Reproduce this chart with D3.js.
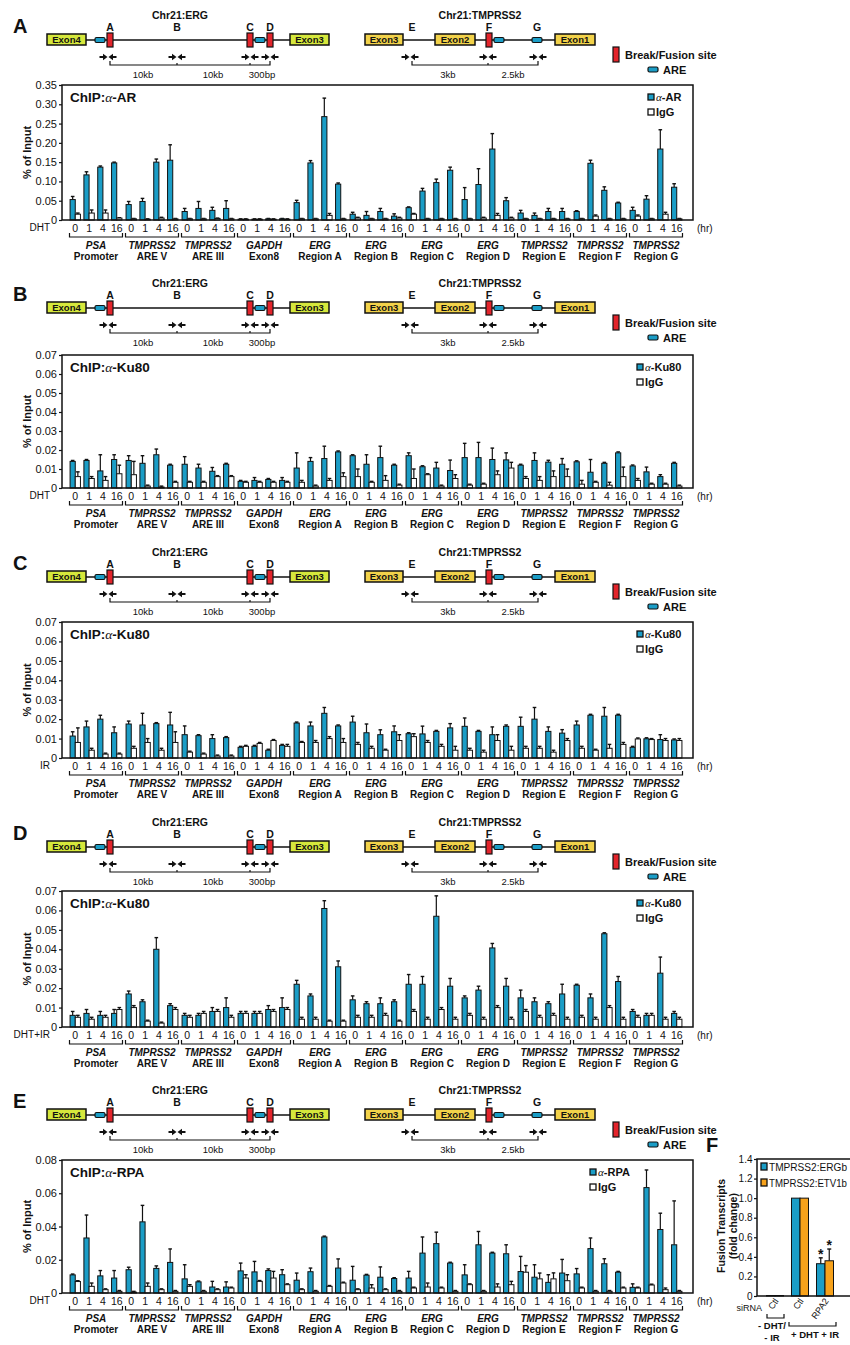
<!DOCTYPE html>
<html>
<head>
<meta charset="utf-8">
<script src="https://cdnjs.cloudflare.com/ajax/libs/d3/7.8.5/d3.min.js"></script>
<style>
  body { margin: 0; background: #fff; }
  svg text { font-family: 'Liberation Sans Narrow', 'Liberation Sans', Arial, sans-serif; fill: #111; }
</style>
</head>
<body>
<svg id="fig" width="850" height="1345"></svg>
<script>
// ---- categories ----
const groupNames = ["PSA", "TMPRSS2", "TMPRSS2", "GAPDH", "ERG", "ERG", "ERG", "ERG", "TMPRSS2", "TMPRSS2", "TMPRSS2"];
const groupRegions = ["Promoter", "ARE V", "ARE III", "Exon8", "Region A", "Region B", "Region C", "Region D", "Region E", "Region F", "Region G"];
const timePoints = ["0", "1", "4", "16"];

// ---- panel A: ChIP a-AR, DHT (one row = one region, 0/1/4/16 hr) ----
const arMean = [
  0.053, 0.117, 0.137, 0.148,
  0.040, 0.048, 0.150, 0.155,
  0.022, 0.030, 0.025, 0.030,
  0.002, 0.002, 0.003, 0.003,
  0.045, 0.148, 0.268, 0.093,
  0.015, 0.012, 0.022, 0.010,
  0.032, 0.075, 0.097, 0.129,
  0.053, 0.092, 0.184, 0.050,
  0.018, 0.012, 0.022, 0.022,
  0.022, 0.147, 0.077, 0.044,
  0.025, 0.054, 0.184, 0.085];
const arErr = [
  0.008, 0.008, 0.003, 0.002,
  0.008, 0.008, 0.008, 0.040,
  0.008, 0.018, 0.008, 0.020,
  0.001, 0.001, 0.001, 0.001,
  0.006, 0.006, 0.048, 0.003,
  0.005, 0.010, 0.008, 0.006,
  0.002, 0.007, 0.009, 0.008,
  0.031, 0.041, 0.040, 0.008,
  0.007, 0.006, 0.008, 0.008,
  0.002, 0.008, 0.009, 0.002,
  0.008, 0.009, 0.050, 0.009];
const arIgG = [
  0.015, 0.018, 0.018, 0.005,
  0.003, 0.002, 0.005, 0.003,
  0.003, 0.003, 0.004, 0.003,
  0.002, 0.002, 0.002, 0.002,
  0.003, 0.003, 0.012, 0.003,
  0.005, 0.003, 0.003, 0.005,
  0.015, 0.003, 0.003, 0.003,
  0.003, 0.005, 0.012, 0.005,
  0.003, 0.003, 0.003, 0.003,
  0.003, 0.010, 0.003, 0.003,
  0.010, 0.003, 0.015, 0.003];
const arIgGErr = [
  0.003, 0.008, 0.008, 0.001,
  0.001, 0.001, 0.002, 0.001,
  0.001, 0.001, 0.001, 0.001,
  0.001, 0.001, 0.001, 0.001,
  0.001, 0.001, 0.005, 0.001,
  0.002, 0.001, 0.001, 0.002,
  0.002, 0.001, 0.001, 0.001,
  0.001, 0.002, 0.005, 0.002,
  0.001, 0.001, 0.001, 0.001,
  0.001, 0.003, 0.001, 0.001,
  0.003, 0.001, 0.005, 0.001];

// ---- panel B: ChIP a-Ku80, DHT ----
const kuDhtMean = [
  0.0140, 0.0145, 0.0090, 0.0150,
  0.0145, 0.0130, 0.0175, 0.0120,
  0.0125, 0.0105, 0.0088, 0.0125,
  0.0035, 0.0040, 0.0045, 0.0040,
  0.0105, 0.0140, 0.0155, 0.0190,
  0.0170, 0.0125, 0.0160, 0.0120,
  0.0170, 0.0112, 0.0105, 0.0092,
  0.0160, 0.0160, 0.0150, 0.0148,
  0.0120, 0.0145, 0.0136, 0.0125,
  0.0138, 0.0083, 0.0130, 0.0185,
  0.0116, 0.0085, 0.0060, 0.0130];
const kuDhtErr = [
  0.0005, 0.0005, 0.0085, 0.0025,
  0.0025, 0.0040, 0.0030, 0.0005,
  0.0040, 0.0020, 0.0020, 0.0005,
  0.0005, 0.0015, 0.0005, 0.0015,
  0.0080, 0.0020, 0.0065, 0.0005,
  0.0005, 0.0050, 0.0060, 0.0005,
  0.0015, 0.0005, 0.0030, 0.0055,
  0.0075, 0.0080, 0.0060, 0.0037,
  0.0005, 0.0040, 0.0010, 0.0030,
  0.0005, 0.0067, 0.0005, 0.0005,
  0.0005, 0.0025, 0.0010, 0.0005];
const kuDhtIgG = [
  0.0060, 0.0050, 0.0040, 0.0075,
  0.0070, 0.0010, 0.0005, 0.0030,
  0.0030, 0.0030, 0.0060, 0.0060,
  0.0030, 0.0030, 0.0030, 0.0030,
  0.0030, 0.0010, 0.0040, 0.0060,
  0.0060, 0.0030, 0.0040, 0.0015,
  0.0050, 0.0070, 0.0010, 0.0050,
  0.0015, 0.0020, 0.0070, 0.0105,
  0.0050, 0.0040, 0.0060, 0.0060,
  0.0020, 0.0030, 0.0015, 0.0060,
  0.0040, 0.0020, 0.0020, 0.0010];
const kuDhtIgGErr = [
  0.0025, 0.0010, 0.0020, 0.0045,
  0.0070, 0.0005, 0.0005, 0.0005,
  0.0005, 0.0005, 0.0005, 0.0005,
  0.0005, 0.0005, 0.0005, 0.0005,
  0.0010, 0.0005, 0.0010, 0.0020,
  0.0040, 0.0005, 0.0025, 0.0005,
  0.0050, 0.0005, 0.0005, 0.0020,
  0.0005, 0.0005, 0.0020, 0.0030,
  0.0010, 0.0020, 0.0030, 0.0040,
  0.0020, 0.0005, 0.0015, 0.0050,
  0.0010, 0.0005, 0.0005, 0.0005];

// ---- panel C: ChIP a-Ku80, IR ----
const kuIrMean = [
  0.0113, 0.0160, 0.0200, 0.0130,
  0.0175, 0.0170, 0.0177, 0.0170,
  0.0120, 0.0115, 0.0100, 0.0105,
  0.0055, 0.0060, 0.0040, 0.0065,
  0.0180, 0.0165, 0.0230, 0.0165,
  0.0185, 0.0130, 0.0120, 0.0135,
  0.0125, 0.0124, 0.0137, 0.0155,
  0.0163, 0.0137, 0.0120, 0.0163,
  0.0163, 0.0200, 0.0137, 0.0128,
  0.0170, 0.0220, 0.0215, 0.0220,
  0.0055, 0.0099, 0.0095, 0.0093];
const kuIrErr = [
  0.0022, 0.0030, 0.0020, 0.0030,
  0.0015, 0.0060, 0.0005, 0.0065,
  0.0045, 0.0005, 0.0020, 0.0005,
  0.0005, 0.0005, 0.0005, 0.0005,
  0.0005, 0.0020, 0.0030, 0.0005,
  0.0030, 0.0045, 0.0025, 0.0030,
  0.0005, 0.0040, 0.0005, 0.0022,
  0.0043, 0.0005, 0.0040, 0.0007,
  0.0047, 0.0060, 0.0023, 0.0018,
  0.0020, 0.0005, 0.0045, 0.0005,
  0.0005, 0.0005, 0.0025, 0.0005];
const kuIrIgG = [
  0.0080, 0.0040, 0.0020, 0.0020,
  0.0050, 0.0080, 0.0040, 0.0080,
  0.0030, 0.0020, 0.0010, 0.0010,
  0.0060, 0.0075, 0.0090, 0.0060,
  0.0080, 0.0080, 0.0100, 0.0080,
  0.0070, 0.0050, 0.0040, 0.0090,
  0.0110, 0.0080, 0.0060, 0.0040,
  0.0040, 0.0030, 0.0090, 0.0040,
  0.0050, 0.0050, 0.0030, 0.0090,
  0.0050, 0.0040, 0.0050, 0.0070,
  0.0098, 0.0095, 0.0090, 0.0090];
const kuIrIgGErr = [
  0.0075, 0.0010, 0.0005, 0.0005,
  0.0010, 0.0020, 0.0010, 0.0055,
  0.0005, 0.0005, 0.0005, 0.0005,
  0.0005, 0.0005, 0.0005, 0.0010,
  0.0005, 0.0010, 0.0010, 0.0020,
  0.0010, 0.0010, 0.0005, 0.0030,
  0.0015, 0.0010, 0.0010, 0.0020,
  0.0010, 0.0010, 0.0030, 0.0020,
  0.0010, 0.0010, 0.0010, 0.0010,
  0.0010, 0.0005, 0.0020, 0.0010,
  0.0005, 0.0005, 0.0010, 0.0010];

// ---- panel D: ChIP a-Ku80, DHT+IR ----
const kuDhtIrMean = [
  0.0060, 0.0070, 0.0060, 0.0070,
  0.0170, 0.0130, 0.0400, 0.0110,
  0.0060, 0.0060, 0.0080, 0.0100,
  0.0070, 0.0070, 0.0090, 0.0100,
  0.0220, 0.0160, 0.0610, 0.0310,
  0.0140, 0.0120, 0.0120, 0.0130,
  0.0220, 0.0220, 0.0570, 0.0210,
  0.0150, 0.0190, 0.0407, 0.0210,
  0.0150, 0.0130, 0.0120, 0.0170,
  0.0215, 0.0150, 0.0480, 0.0234,
  0.0080, 0.0060, 0.0277, 0.0070];
const kuDhtIrErr = [
  0.0020, 0.0020, 0.0020, 0.0020,
  0.0015, 0.0010, 0.0060, 0.0010,
  0.0010, 0.0010, 0.0020, 0.0050,
  0.0010, 0.0010, 0.0020, 0.0050,
  0.0020, 0.0010, 0.0040, 0.0030,
  0.0020, 0.0010, 0.0030, 0.0010,
  0.0050, 0.0040, 0.0105, 0.0040,
  0.0010, 0.0020, 0.0023, 0.0040,
  0.0040, 0.0020, 0.0010, 0.0050,
  0.0005, 0.0020, 0.0005, 0.0026,
  0.0010, 0.0010, 0.0083, 0.0010];
const kuDhtIrIgG = [
  0.0050, 0.0040, 0.0050, 0.0090,
  0.0100, 0.0030, 0.0020, 0.0090,
  0.0050, 0.0070, 0.0080, 0.0050,
  0.0070, 0.0070, 0.0080, 0.0090,
  0.0040, 0.0040, 0.0030, 0.0030,
  0.0050, 0.0050, 0.0060, 0.0030,
  0.0080, 0.0040, 0.0090, 0.0040,
  0.0060, 0.0040, 0.0100, 0.0040,
  0.0080, 0.0050, 0.0060, 0.0040,
  0.0050, 0.0040, 0.0100, 0.0040,
  0.0050, 0.0060, 0.0040, 0.0040];
const kuDhtIrIgGErr = [
  0.0010, 0.0010, 0.0010, 0.0010,
  0.0010, 0.0005, 0.0005, 0.0010,
  0.0010, 0.0010, 0.0010, 0.0010,
  0.0010, 0.0010, 0.0010, 0.0010,
  0.0010, 0.0010, 0.0005, 0.0005,
  0.0010, 0.0010, 0.0010, 0.0005,
  0.0010, 0.0010, 0.0010, 0.0010,
  0.0010, 0.0010, 0.0010, 0.0010,
  0.0010, 0.0010, 0.0010, 0.0010,
  0.0010, 0.0010, 0.0010, 0.0010,
  0.0010, 0.0010, 0.0010, 0.0010];

// ---- panel E: ChIP a-RPA, DHT ----
const rpaMean = [
  0.0109, 0.0331, 0.0103, 0.0090,
  0.0140, 0.0428, 0.0148, 0.0184,
  0.0085, 0.0067, 0.0036, 0.0036,
  0.0133, 0.0127, 0.0135, 0.0110,
  0.0077, 0.0128, 0.0337, 0.0150,
  0.0077, 0.0107, 0.0095, 0.0087,
  0.0090, 0.0240, 0.0297, 0.0180,
  0.0109, 0.0290, 0.0240, 0.0236,
  0.0129, 0.0095, 0.0064, 0.0120,
  0.0115, 0.0267, 0.0176, 0.0125,
  0.0034, 0.0634, 0.0382, 0.0290];
const rpaErr = [
  0.0005, 0.0138, 0.0032, 0.0045,
  0.0015, 0.0099, 0.0015, 0.0081,
  0.0085, 0.0005, 0.0034, 0.0031,
  0.0047, 0.0063, 0.0010, 0.0030,
  0.0043, 0.0022, 0.0005, 0.0055,
  0.0083, 0.0005, 0.0062, 0.0005,
  0.0040, 0.0097, 0.0069, 0.0005,
  0.0061, 0.0080, 0.0005, 0.0054,
  0.0091, 0.0075, 0.0046, 0.0082,
  0.0032, 0.0064, 0.0030, 0.0005,
  0.0021, 0.0106, 0.0098, 0.0264];
const rpaIgG = [
  0.0069, 0.0040, 0.0020, 0.0010,
  0.0005, 0.0040, 0.0020, 0.0010,
  0.0040, 0.0010, 0.0020, 0.0030,
  0.0090, 0.0070, 0.0090, 0.0050,
  0.0020, 0.0010, 0.0040, 0.0060,
  0.0020, 0.0030, 0.0020, 0.0010,
  0.0030, 0.0036, 0.0030, 0.0010,
  0.0050, 0.0010, 0.0036, 0.0050,
  0.0125, 0.0085, 0.0085, 0.0074,
  0.0030, 0.0010, 0.0010, 0.0030,
  0.0030, 0.0048, 0.0020, 0.0010];
const rpaIgGErr = [
  0.0005, 0.0020, 0.0005, 0.0005,
  0.0005, 0.0020, 0.0005, 0.0005,
  0.0010, 0.0005, 0.0005, 0.0005,
  0.0020, 0.0005, 0.0040, 0.0005,
  0.0005, 0.0005, 0.0005, 0.0005,
  0.0005, 0.0020, 0.0005, 0.0005,
  0.0005, 0.0024, 0.0005, 0.0005,
  0.0005, 0.0005, 0.0019, 0.0020,
  0.0040, 0.0035, 0.0036, 0.0036,
  0.0005, 0.0005, 0.0005, 0.0005,
  0.0005, 0.0005, 0.0010, 0.0005];

// ---- panel F: fusion transcripts ----
const fLabels = ["Ctl", "Ctl", "RPA2"];
const ergbMean = [0.005, 1.0, 0.33];
const ergbErr = [0, 0, 0.06];
const etv1bMean = [0.005, 1.0, 0.36];
const etv1bErr = [0, 0, 0.12];
const fSeries = ["TMPRSS2:ERGb", "TMPRSS2:ETV1b"];

// ---- colours ----
const blue = "#1b9dc6";
const orange = "#f7a21b";
const red = "#e3242b";
const ergExon = "#d6e83c";
const tmpExon = "#f2d24a";

const svg = d3.select("#fig");

// Panel setup (layout + which arrays to use)
const panels = [
  {letter: "A", dy: 0, top: 85, bottom: 220, max: 0.35, step: 0.05, ab: "AR", row: "DHT", legendX: 648,
   mean: arMean, err: arErr, igg: arIgG, iggErr: arIgGErr},
  {letter: "B", dy: 268, top: 355, bottom: 488, max: 0.07, step: 0.01, ab: "Ku80", row: "DHT", legendX: 637,
   mean: kuDhtMean, err: kuDhtErr, igg: kuDhtIgG, iggErr: kuDhtIgGErr},
  {letter: "C", dy: 537, top: 622, bottom: 758, max: 0.07, step: 0.01, ab: "Ku80", row: "IR", legendX: 637,
   mean: kuIrMean, err: kuIrErr, igg: kuIrIgG, iggErr: kuIrIgGErr},
  {letter: "D", dy: 807, top: 891, bottom: 1027, max: 0.07, step: 0.01, ab: "Ku80", row: "DHT+IR", legendX: 637,
   mean: kuDhtIrMean, err: kuDhtIrErr, igg: kuDhtIrIgG, iggErr: kuDhtIrIgGErr},
  {letter: "E", dy: 1075, top: 1160, bottom: 1293, max: 0.08, step: 0.02, ab: "RPA", row: "DHT", legendX: 590,
   mean: rpaMean, err: rpaErr, igg: rpaIgG, iggErr: rpaIgGErr}
];

// small primer pair: ->  <-
function primerPair(g, cx, y) {
  g.append("line").attr("x1", cx - 8.5).attr("x2", cx - 4).attr("y1", y).attr("y2", y)
    .attr("stroke", "#111").attr("stroke-width", 2);
  g.append("path").attr("d", `M${cx - 5},${y - 3.2}L${cx - 0.5},${y}L${cx - 5},${y + 3.2}Z`).attr("fill", "#111");
  g.append("line").attr("x1", cx + 8.5).attr("x2", cx + 4).attr("y1", y).attr("y2", y)
    .attr("stroke", "#111").attr("stroke-width", 2);
  g.append("path").attr("d", `M${cx + 5},${y - 3.2}L${cx + 0.5},${y}L${cx + 5},${y + 3.2}Z`).attr("fill", "#111");
}

function exonBox(g, x, w, label, fill) {
  g.append("rect").attr("x", x).attr("y", 34).attr("width", w).attr("height", 11)
    .attr("fill", fill).attr("stroke", "#111").attr("stroke-width", 1.5);
  g.append("text").attr("x", x + w / 2).attr("y", 42.8).attr("text-anchor", "middle")
    .attr("font-size", "9.5px").attr("font-weight", "bold").attr("fill", "#3a3000").text(label);
}

function breakSite(g, x) {
  g.append("rect").attr("x", x).attr("y", 33).attr("width", 6).attr("height", 14)
    .attr("fill", red).attr("stroke", "#111").attr("stroke-width", 1.2);
}

function areBox(g, x, w) {
  g.append("rect").attr("x", x).attr("y", 37.5).attr("width", w).attr("height", 5).attr("rx", 1.5)
    .attr("fill", blue).attr("stroke", "#111").attr("stroke-width", 1.2);
}

function smallLabel(g, x, y, txt, size, weight) {
  return g.append("text").attr("x", x).attr("y", y).attr("text-anchor", "middle")
    .attr("font-size", size).attr("font-weight", weight || "normal").text(txt);
}

// gene schematic above each chart
function drawSchematic(p) {
  const g = svg.append("g").attr("transform", `translate(0,${p.dy})`);

  g.append("text").attr("x", 13).attr("y", 33).attr("font-size", "20px").attr("font-weight", "bold")
    .attr("font-family", "'Liberation Sans', Arial, sans-serif").text(p.letter);

  smallLabel(g, 180, 19, "Chr21:ERG", "10.5px", "bold");
  smallLabel(g, 480, 19, "Chr21:TMPRSS2", "10.5px", "bold");

  // ERG locus
  g.append("line").attr("x1", 86).attr("x2", 290).attr("y1", 40).attr("y2", 40).attr("stroke", "#111").attr("stroke-width", 1.6);
  exonBox(g, 47, 39, "Exon4", ergExon);
  exonBox(g, 290, 39, "Exon3", ergExon);
  areBox(g, 95, 10);
  breakSite(g, 107);
  breakSite(g, 247);
  areBox(g, 255, 10);
  breakSite(g, 267);
  [["A", 110], ["B", 177], ["C", 250], ["D", 270]].forEach(d => smallLabel(g, d[1], 31, d[0], "10.5px", "bold"));
  [108, 177, 250, 270].forEach(cx => primerPair(g, cx, 57));
  g.append("path").attr("d", "M110,61V65H270V61M177,63V65M250,63V65")
    .attr("fill", "none").attr("stroke", "#111").attr("stroke-width", 1.2);
  smallLabel(g, 143, 78, "10kb", "9.5px");
  smallLabel(g, 213, 78, "10kb", "9.5px");
  smallLabel(g, 262, 78, "300bp", "9.5px");

  // TMPRSS2 locus
  g.append("line").attr("x1", 403).attr("x2", 555).attr("y1", 40).attr("y2", 40).attr("stroke", "#111").attr("stroke-width", 1.6);
  exonBox(g, 365, 38, "Exon3", tmpExon);
  exonBox(g, 435, 40, "Exon2", tmpExon);
  exonBox(g, 555, 40, "Exon1", tmpExon);
  breakSite(g, 486);
  areBox(g, 494, 10);
  areBox(g, 532, 10);
  [["E", 412], ["F", 489], ["G", 537]].forEach(d => smallLabel(g, d[1], 31, d[0], "10.5px", "bold"));
  [410, 488, 538].forEach(cx => primerPair(g, cx, 57));
  g.append("path").attr("d", "M412,61V65H538V61M488,63V65")
    .attr("fill", "none").attr("stroke", "#111").attr("stroke-width", 1.2);
  smallLabel(g, 448, 78, "3kb", "9.5px");
  smallLabel(g, 513, 78, "2.5kb", "9.5px");

  // schematic legend
  g.append("rect").attr("x", 613).attr("y", 47).attr("width", 6).attr("height", 15)
    .attr("fill", red).attr("stroke", "#111").attr("stroke-width", 1.2);
  g.append("text").attr("x", 625).attr("y", 59).attr("font-size", "11px").attr("font-weight", "bold").text("Break/Fusion site");
  g.append("rect").attr("x", 648).attr("y", 67).attr("width", 10).attr("height", 5).attr("rx", 1.5)
    .attr("fill", blue).attr("stroke", "#111").attr("stroke-width", 1.2);
  g.append("text").attr("x", 663).attr("y", 73.5).attr("font-size", "11px").attr("font-weight", "bold").text("ARE");
}

function chipTitle(sel, ab) {
  sel.append("tspan").text("ChIP:");
  sel.append("tspan").attr("font-family", "'Liberation Serif', serif").attr("font-style", "italic")
    .attr("font-weight", "normal").text("\u03b1");
  sel.append("tspan").text("-" + ab);
}

// grouped bar chart with error bars
function drawChart(p) {
  const g = svg.append("g");
  const y = d3.scaleLinear().domain([0, p.max]).range([p.bottom, p.top]);
  const x0 = d3.scaleBand().domain(d3.range(groupNames.length)).range([68, 684]);
  const x1 = d3.scaleBand().domain(timePoints).range([0, x0.bandwidth()]).paddingInner(0.25).paddingOuter(0.15);
  const x2 = d3.scaleBand().domain(["ab", "igg"]).range([0, x1.bandwidth()]);

  const rows = p.mean.map((v, i) => ({
    g: Math.floor(i / 4), t: timePoints[i % 4],
    ab: v, abErr: p.err[i], igg: p.igg[i], iggErr: p.iggErr[i]
  }));
  const bars = [];
  rows.forEach(r => {
    bars.push({g: r.g, t: r.t, s: "ab", v: r.ab, e: r.abErr});
    bars.push({g: r.g, t: r.t, s: "igg", v: r.igg, e: r.iggErr});
  });
  const bx = d => x0(d.g) + x1(d.t) + x2(d.s);

  // error bars first, so the bar outline sits on top
  const eb = g.selectAll(".err").data(bars).enter().append("g");
  eb.append("line")
    .attr("x1", d => bx(d) + x2.bandwidth() / 2).attr("x2", d => bx(d) + x2.bandwidth() / 2)
    .attr("y1", d => y(d.v)).attr("y2", d => y(d.v + d.e))
    .attr("stroke", "#111").attr("stroke-width", 1.2);
  eb.append("line")
    .attr("x1", d => bx(d) + x2.bandwidth() / 2 - 1.8).attr("x2", d => bx(d) + x2.bandwidth() / 2 + 1.8)
    .attr("y1", d => y(d.v + d.e)).attr("y2", d => y(d.v + d.e))
    .attr("stroke", "#111").attr("stroke-width", 1.4);

  g.selectAll(".bar").data(bars).enter().append("rect")
    .attr("x", bx)
    .attr("y", d => y(d.v))
    .attr("width", x2.bandwidth())
    .attr("height", d => y(0) - y(d.v))
    .attr("fill", d => d.s === "ab" ? blue : "#fff")
    .attr("stroke", "#111").attr("stroke-width", 1);

  // frame
  g.append("rect").attr("x", 62).attr("y", p.top).attr("width", 631).attr("height", p.bottom - p.top)
    .attr("fill", "none").attr("stroke", "#111").attr("stroke-width", 1.5);

  // y axis
  const ticks = d3.range(0, p.max + p.step / 2, p.step);
  const ax = g.append("g").attr("transform", "translate(62,0)")
    .call(d3.axisLeft(y).tickValues(ticks).tickSize(3).tickPadding(2)
      .tickFormat(d => d === 0 ? "0" : d3.format(".2f")(d)));
  ax.select(".domain").remove();
  ax.selectAll("line").attr("stroke", "#111").attr("stroke-width", 1.2);
  ax.selectAll("text").attr("font-size", "11px").attr("font-family", "'Liberation Sans Narrow', 'Liberation Sans', Arial, sans-serif");

  g.append("text")
    .attr("transform", `translate(31,${(p.top + p.bottom) / 2}) rotate(-90)`)
    .attr("text-anchor", "middle").attr("font-size", "11px").attr("font-weight", "bold").text("% of Input");

  // time labels, brackets and region labels
  g.selectAll(".tl").data(rows).enter().append("text")
    .attr("x", d => x0(d.g) + x1(d.t) + x1.bandwidth() / 2)
    .attr("y", p.bottom + 12)
    .attr("text-anchor", "middle").attr("font-size", "10.5px").text(d => d.t);

  g.append("text").attr("x", 50).attr("y", p.bottom + 11).attr("text-anchor", "end")
    .attr("font-size", "10px").text(p.row);
  g.append("text").attr("x", 697).attr("y", p.bottom + 12).attr("font-size", "10px").text("(hr)");

  g.selectAll(".br").data(groupNames).enter().append("path")
    .attr("d", (d, i) => {
      const a = x0(i) + 1.5, b = x0(i) + x0.bandwidth() - 1.5, yy = p.bottom + 17;
      return `M${a},${yy - 4}V${yy}H${b}V${yy - 4}`;
    })
    .attr("fill", "none").attr("stroke", "#111").attr("stroke-width", 1.2);

  g.selectAll(".gn").data(groupNames).enter().append("text")
    .attr("x", (d, i) => x0(i) + x0.bandwidth() / 2).attr("y", p.bottom + 29)
    .attr("text-anchor", "middle").attr("font-size", "10px").attr("font-weight", "bold")
    .attr("font-style", "italic").text(d => d);
  g.selectAll(".gr").data(groupRegions).enter().append("text")
    .attr("x", (d, i) => x0(i) + x0.bandwidth() / 2).attr("y", p.bottom + 40)
    .attr("text-anchor", "middle").attr("font-size", "10px").attr("font-weight", "bold").text(d => d);

  // title and legend
  const t = g.append("text").attr("x", 70).attr("y", p.top + 17).attr("font-size", "13.5px").attr("font-weight", "bold");
  chipTitle(t, p.ab);

  g.append("rect").attr("x", p.legendX).attr("y", p.top + 9).attr("width", 6).attr("height", 6)
    .attr("fill", blue).attr("stroke", "#111").attr("stroke-width", 1.3);
  const l1 = g.append("text").attr("x", p.legendX + 8).attr("y", p.top + 16).attr("font-size", "11px").attr("font-weight", "bold");
  l1.append("tspan").attr("font-family", "'Liberation Serif', serif").attr("font-style", "italic").attr("font-weight", "normal").text("\u03b1");
  l1.append("tspan").text("-" + p.ab);
  g.append("rect").attr("x", p.legendX).attr("y", p.top + 24).attr("width", 6).attr("height", 6)
    .attr("fill", "#fff").attr("stroke", "#111").attr("stroke-width", 1.3);
  g.append("text").attr("x", p.legendX + 8).attr("y", p.top + 31).attr("font-size", "11px").attr("font-weight", "bold").text("IgG");
}

// panel F: qPCR of fusion transcripts
function drawPanelF() {
  const g = svg.append("g");
  const top = 1159, bottom = 1296, left = 757;
  const y = d3.scaleLinear().domain([0, 1.4]).range([bottom, top]);
  const xc = d3.scalePoint().domain(d3.range(fLabels.length)).range([775, 825]);
  const xs = d3.scaleBand().domain(fSeries).range([-8.5, 8.5]);
  const cols = [blue, orange];

  g.append("text").attr("x", 706).attr("y", 1152).attr("font-size", "20px").attr("font-weight", "bold")
    .attr("font-family", "'Liberation Sans', Arial, sans-serif").text("F");

  const bars = [];
  fLabels.forEach((l, i) => {
    bars.push({i: i, s: fSeries[0], v: ergbMean[i], e: ergbErr[i], c: cols[0]});
    bars.push({i: i, s: fSeries[1], v: etv1bMean[i], e: etv1bErr[i], c: cols[1]});
  });

  const eb = g.selectAll(".ferr").data(bars.filter(d => d.e > 0)).enter().append("g");
  eb.append("line")
    .attr("x1", d => xc(d.i) + xs(d.s) + xs.bandwidth() / 2).attr("x2", d => xc(d.i) + xs(d.s) + xs.bandwidth() / 2)
    .attr("y1", d => y(d.v)).attr("y2", d => y(d.v + d.e)).attr("stroke", "#111").attr("stroke-width", 1.2);
  eb.append("line")
    .attr("x1", d => xc(d.i) + xs(d.s) + xs.bandwidth() / 2 - 2).attr("x2", d => xc(d.i) + xs(d.s) + xs.bandwidth() / 2 + 2)
    .attr("y1", d => y(d.v + d.e)).attr("y2", d => y(d.v + d.e)).attr("stroke", "#111").attr("stroke-width", 1.4);
  eb.append("text")
    .attr("x", d => xc(d.i) + xs(d.s) + xs.bandwidth() / 2).attr("y", d => y(d.v + d.e) + 1)
    .attr("text-anchor", "middle").attr("font-size", "14px").attr("font-weight", "bold").text("*");

  g.selectAll(".fbar").data(bars).enter().append("rect")
    .attr("x", d => xc(d.i) + xs(d.s)).attr("y", d => y(d.v))
    .attr("width", xs.bandwidth()).attr("height", d => y(0) - y(d.v))
    .attr("fill", d => d.c).attr("stroke", "#111").attr("stroke-width", 1);

  g.append("rect").attr("x", left).attr("y", top).attr("width", 200).attr("height", bottom - top)
    .attr("fill", "none").attr("stroke", "#111").attr("stroke-width", 1.5);

  const ax = g.append("g").attr("transform", `translate(${left},0)`)
    .call(d3.axisLeft(y).tickValues(d3.range(0, 1.41, 0.2)).tickSize(3).tickPadding(1.5)
      .tickFormat(d => d === 0 ? "0" : d3.format(".1f")(d)));
  ax.select(".domain").remove();
  ax.selectAll("line").attr("stroke", "#111").attr("stroke-width", 1.2);
  ax.selectAll("text").attr("font-size", "10px").attr("font-family", "'Liberation Sans Narrow', 'Liberation Sans', Arial, sans-serif");

  g.append("text").attr("transform", `translate(725,1226) rotate(-90)`)
    .attr("text-anchor", "middle").attr("font-size", "10.5px").attr("font-weight", "bold").text("Fusion Transcripts");
  g.append("text").attr("transform", `translate(737,1226) rotate(-90)`)
    .attr("text-anchor", "middle").attr("font-size", "10.5px").attr("font-weight", "bold").text("(fold change)");

  // legend
  fSeries.forEach((s, i) => {
    g.append("rect").attr("x", 761).attr("y", 1163 + i * 16).attr("width", 6).attr("height", 7)
      .attr("fill", cols[i]).attr("stroke", "#111").attr("stroke-width", 1.3);
    g.append("text").attr("x", 769).attr("y", 1170.5 + i * 16).attr("font-size", "10px")
      .attr("textLength", 78).attr("lengthAdjust", "spacingAndGlyphs").text(s);
  });

  // siRNA labels
  g.append("text").attr("x", 762).attr("y", 1311).attr("text-anchor", "end").attr("font-size", "9px").text("siRNA");
  g.selectAll(".fl").data(fLabels).enter().append("text")
    .attr("transform", (d, i) => `translate(${xc(i) + 4},1301) rotate(-55)`)
    .attr("text-anchor", "end").attr("font-size", "9px").text(d => d);

  g.append("path").attr("d", "M767,1314V1318H784V1314M789,1322V1326H836V1322")
    .attr("fill", "none").attr("stroke", "#111").attr("stroke-width", 1.2);
  smallLabel(g, 772, 1329, "- DHT/", "9.5px", "bold");
  smallLabel(g, 772, 1341, "- IR", "9.5px", "bold");
  smallLabel(g, 815, 1338, "+ DHT + IR", "9.5px", "bold");
}

panels.forEach(p => {
  drawSchematic(p);
  drawChart(p);
});
drawPanelF();
</script>
</body>
</html>
